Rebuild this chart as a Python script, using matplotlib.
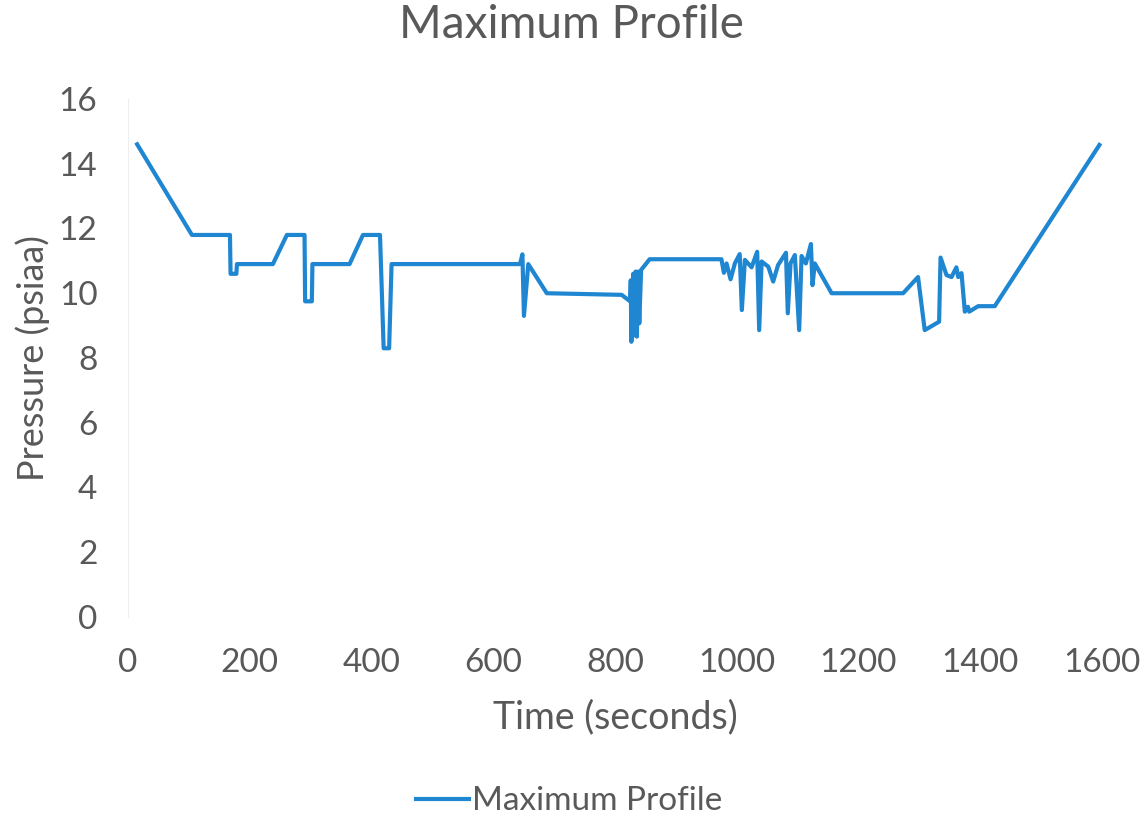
import matplotlib.pyplot as plt

# data
time_s = [15, 105, 167.5, 168.5, 178, 179, 238, 261, 290, 291, 302, 303,
          364, 386, 414, 420, 429, 433, 644, 648, 650.5, 657.6, 688, 811,
          825, 826, 827, 830, 832, 834, 836, 838, 840, 843, 857, 975, 979,
          983.4, 990, 997, 1005, 1008.5, 1013.5, 1024.5, 1033.7, 1037, 1041,
          1052, 1060, 1068, 1081, 1084, 1088.5, 1095.6, 1102.7, 1106.6,
          1113.7, 1122, 1124.6, 1128.4, 1156, 1273.5, 1298, 1309, 1332.6,
          1335, 1344.8, 1353, 1361, 1364, 1369.4, 1374.9, 1380, 1382, 1396.7,
          1424, 1596]
pressure = [14.6, 11.8, 11.8, 10.6, 10.6, 10.9, 10.9, 11.8, 11.8, 9.75, 9.75, 10.9,
            10.9, 11.8, 11.8, 8.3, 8.3, 10.9, 10.9, 11.2, 9.3, 10.9, 10.0, 9.95,
            9.75, 10.4, 8.5, 10.6, 8.7, 10.67, 8.66, 10.67, 9.07, 10.72, 11.05, 11.05, 10.63,
            10.92, 10.43, 10.92, 11.21, 9.48, 11.03, 10.8, 11.28, 8.86, 10.98,
            10.82, 10.36, 10.87, 11.25, 9.38, 10.92, 11.18, 8.86, 11.15,
            10.92, 11.52, 10.25, 10.92, 10.0, 10.0, 10.5, 8.86, 9.12,
            11.1, 10.56, 10.5, 10.8, 10.5, 10.62, 9.43, 9.58, 9.43, 9.6,
            9.6, 14.58]

x_ticks = [0, 200, 400, 600, 800, 1000, 1200, 1400, 1600]
y_ticks = [0, 2, 4, 6, 8, 10, 12, 14, 16]

text_grey = '#595959'
plt.rcParams['font.family'] = ['Lato', 'DejaVu Sans']

fig = plt.figure(figsize=(11.43, 8.16), dpi=100)
ax = fig.add_axes([0.112, 0.2439, 0.852, 0.6348])

ax.plot(time_s, pressure, color='#1F86D1', linewidth=3,
        solid_joinstyle='round', label='Maximum Profile')

ax.set_xlim(0, 1600)
ax.set_ylim(0, 16)
ax.set_xticks(x_ticks)
ax.set_yticks(y_ticks)
ax.tick_params(length=0, labelsize=24, labelcolor=text_grey)
ax.tick_params(axis='x', pad=22)
ax.tick_params(axis='y', pad=22)

for side in ['top', 'right', 'bottom']:
  ax.spines[side].set_visible(False)
ax.spines['left'].set_color('#eeeeee')

ax.set_xlabel('Time (seconds)', fontsize=27, color=text_grey, labelpad=16)
ax.set_ylabel('Pressure (psiaa)', fontsize=26, color=text_grey, labelpad=6)
fig.suptitle('Maximum Profile', fontsize=33, color=text_grey, y=0.995)

ax.legend(loc='center', bbox_to_anchor=(0.498, 0.018), bbox_transform=fig.transFigure,
          frameon=False, fontsize=24, labelcolor=text_grey, handlelength=1.6,
          handletextpad=0.1, borderpad=0)

fig.savefig('out.png', dpi=100)
